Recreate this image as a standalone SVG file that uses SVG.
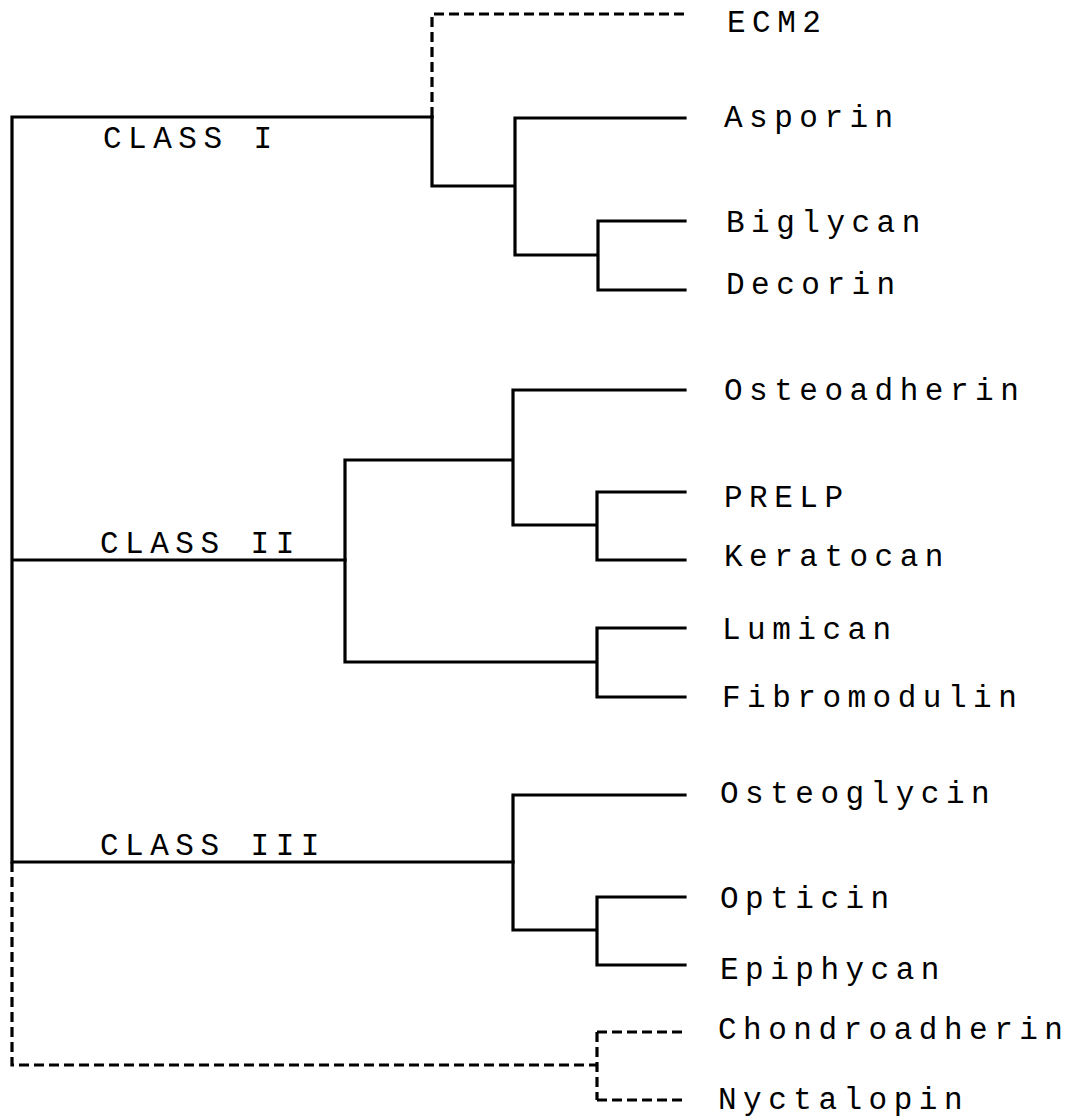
<svg xmlns="http://www.w3.org/2000/svg" width="1072" height="1120" viewBox="0 0 1072 1120">
<style>
.e{fill:none;stroke:#000;stroke-width:3.2;stroke-linecap:square;stroke-linejoin:miter}
.d{stroke-dasharray:10 5;stroke-linecap:butt}
text{font-family:"Courier New","Liberation Mono",monospace;font-size:31px;letter-spacing:6.5px;fill:#000}
</style>
<rect width="1072" height="1120" fill="#fff"/>
<g id="connectors">
<path class="e" d="M12 862V117H432M12 560H345M12 862H513"/>
<path class="e d" d="M432 117V14H685"/>
<path class="e" d="M432 117V186H515M515 118V255M515 118H685M515 255H598M598 221V290M598 221H685M598 290H685"/>
<path class="e" d="M345 460V662M345 460H513M345 662H597M513 390V525M513 390H685M513 525H597M597 492V560M597 492H685M597 560H685M597 628V697M597 628H685M597 697H685"/>
<path class="e" d="M513 795V930M513 795H685M513 930H597M597 897V965M597 897H685M597 965H685"/>
<path class="e d" d="M12 862V1065H597M597 1032V1100M597 1032H685M597 1100H685"/>
</g>
<g id="class-labels">
<text x="103" y="148">CLASS I</text>
<text x="100" y="553">CLASS II</text>
<text x="100" y="855">CLASS III</text>
</g>
<g id="n-ecm2"><text x="727" y="32">ECM2</text></g>
<g id="n-asporin"><text x="724" y="127">Asporin</text></g>
<g id="n-biglycan"><text x="726" y="232">Biglycan</text></g>
<g id="n-decorin"><text x="726" y="294">Decorin</text></g>
<g id="n-osteoadherin"><text x="724" y="400">Osteoadherin</text></g>
<g id="n-prelp"><text x="724" y="507">PRELP</text></g>
<g id="n-keratocan"><text x="724" y="566">Keratocan</text></g>
<g id="n-lumican"><text x="722" y="639">Lumican</text></g>
<g id="n-fibromodulin"><text x="722" y="707">Fibromodulin</text></g>
<g id="n-osteoglycin"><text x="720" y="803">Osteoglycin</text></g>
<g id="n-opticin"><text x="720" y="908">Opticin</text></g>
<g id="n-epiphycan"><text x="720" y="979">Epiphycan</text></g>
<g id="n-chondroadherin"><text x="718" y="1039">Chondroadherin</text></g>
<g id="n-nyctalopin"><text x="718" y="1109">Nyctalopin</text></g>
</svg>
